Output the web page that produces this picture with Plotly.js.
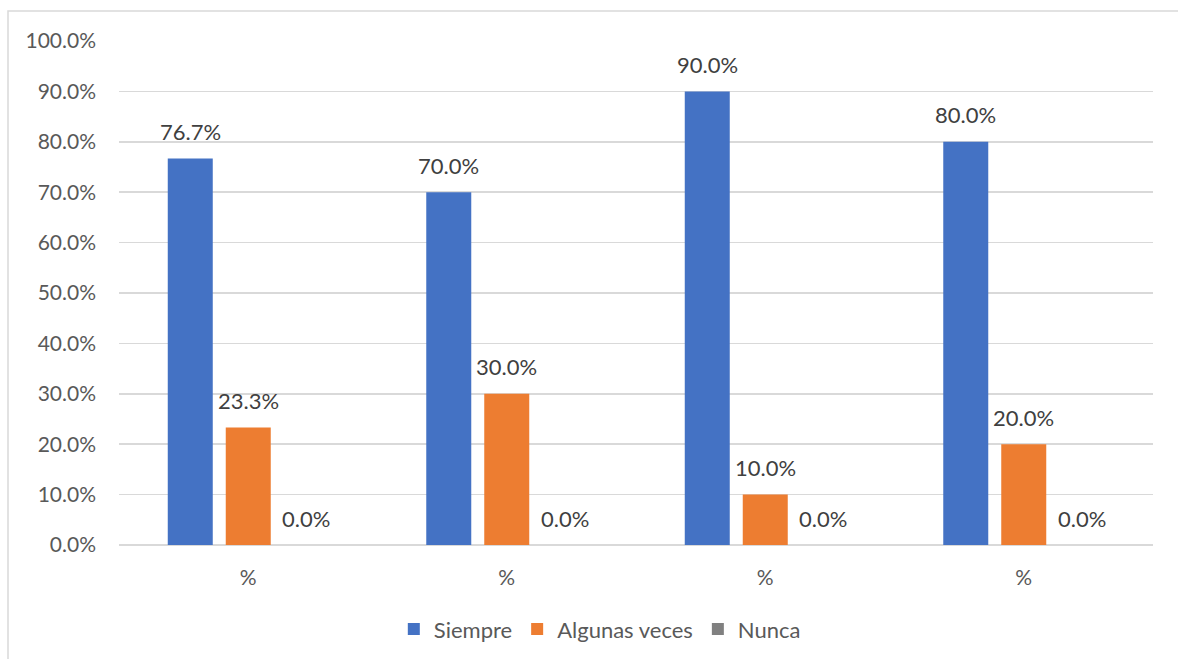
<!DOCTYPE html>
<html>
<head>
<meta charset="utf-8">
<script src="https://cdn.plot.ly/plotly-3.0.1.min.js"></script>
<style>
  html, body { margin: 0; padding: 0; background: #ffffff; }
  #chart { width: 1178px; height: 659px; }
</style>
</head>
<body>
<div id="chart"></div>
<script>
// Four groups, each labelled "%"
const categories = ["%", "%", "%", "%"];
const seriesNames = ["Siempre", "Algunas veces", "Nunca"];
const siempre = [0.767, 0.700, 0.900, 0.800];
const algunasVeces = [0.233, 0.300, 0.100, 0.200];
const nunca = [0.0, 0.0, 0.0, 0.0];
const yTickValues = [0, 0.1, 0.2, 0.3, 0.4, 0.5, 0.6, 0.7, 0.8, 0.9, 1.0];

const colors = ["#4472C4", "#ED7D31", "#808080"];
const FONT = "Lato, 'Open Sans', sans-serif";
const BARGAP = 0.327;
const GROUPGAP = 0.224;

const positions = categories.map((_, i) => i);
const allSeries = [siempre, algunasVeces, nunca];

const traces = allSeries.map((vals, k) => ({
  type: "bar",
  name: seriesNames[k],
  x: positions,
  y: vals,
  marker: { color: colors[k] },
  hoverinfo: "skip"
}));

// Value labels above each bar, placed at the bar's slot within its group
const slot = (1 - BARGAP) / allSeries.length;
const annotations = [];
allSeries.forEach((vals, k) => {
  vals.forEach((v, i) => {
    annotations.push({
      x: i + (k - (allSeries.length - 1) / 2) * slot,
      y: v,
      xref: "x",
      yref: "y",
      text: (v * 100).toFixed(1) + "%",
      showarrow: false,
      yanchor: "middle",
      yshift: 27,
      font: { family: FONT, size: 22, color: "#404040" }
    });
  });
});

const layout = {
  width: 1178,
  height: 659,
  margin: { l: 119, r: 25, t: 41, b: 114, autoexpand: false },
  paper_bgcolor: "#ffffff",
  plot_bgcolor: "#ffffff",
  font: { family: FONT, size: 21, color: "#595959" },
  barmode: "group",
  bargap: BARGAP,
  bargroupgap: GROUPGAP,
  showlegend: true,
  legend: {
    orientation: "h",
    x: 0.465,
    xanchor: "center",
    y: -0.167,
    yanchor: "middle",
    itemwidth: 30,
    font: { family: FONT, size: 22, color: "#595959" },
    traceorder: "normal"
  },
  xaxis: {
    range: [-0.5, categories.length - 0.5],
    tickmode: "array",
    tickvals: positions,
    ticktext: categories,
    showgrid: false,
    zeroline: false,
    showline: false,
    automargin: false,
    ticks: "outside",
    ticklen: 14,
    tickcolor: "rgba(0,0,0,0)",
    tickfont: { family: FONT, size: 21, color: "#595959" },
    fixedrange: true
  },
  yaxis: {
    range: [0, 1.0],
    tickmode: "array",
    tickvals: yTickValues,
    tickformat: ".1%",
    showgrid: true,
    gridcolor: "#d9d9d9",
    gridwidth: 1.5,
    zeroline: true,
    zerolinecolor: "#d9d9d9",
    zerolinewidth: 1.5,
    showline: false,
    automargin: false,
    ticklabelstandoff: 22,
    tickfont: { family: FONT, size: 21, color: "#595959" },
    fixedrange: true
  },
  annotations: annotations,
  shapes: [{
    type: "rect",
    xref: "paper",
    yref: "paper",
    x0: (8 - 119) / 1034,
    x1: (1200 - 119) / 1034,
    y0: -(114 + 20) / 504,
    y1: 1 + (41 - 11) / 504,
    line: { color: "#d9d9d9", width: 1.5 },
    fillcolor: "rgba(0,0,0,0)",
    layer: "below"
  }]
};

Plotly.newPlot("chart", traces, layout, { displayModeBar: false, staticPlot: true });
</script>
</body>
</html>
